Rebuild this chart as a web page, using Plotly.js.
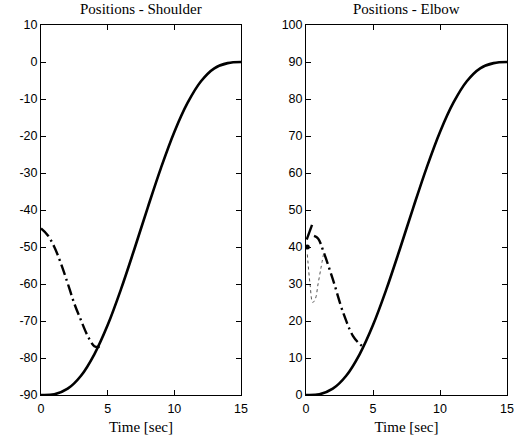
<!DOCTYPE html>
<html>
<head>
<meta charset="utf-8">
<script src="https://cdn.plot.ly/plotly-3.0.1.min.js"></script>
<style>html,body{margin:0;padding:0;background:#fff;}#chart{width:529px;height:439px;}</style>
</head>
<body>
<div id="chart"></div>
<script>
// Solid reference trajectories
const timeSolid = [0,1,2,3,4,5,6,7,8,9,10,11,12,13,14,15];
const shoulderSolid = [-90,-89.8,-88.3,-84.8,-79.0,-71.1,-61.4,-50.6,-39.4,-28.6,-18.9,-11.0,-5.2,-1.7,-0.3,0];
const elbowSolid = [0,0.2,1.7,5.2,11.0,18.9,28.6,39.4,50.6,61.4,71.1,79.0,84.8,88.3,89.7,90];

// Dash-dot curves
const timeShoulderDD = [0,0.5,1,1.5,2,2.5,3,3.5,4,4.4];
const shoulderDD = [-45,-46.8,-50,-54.5,-59.8,-65.3,-69.8,-74,-76.8,-77];
const timeElbowBump = [0.05,0.25,0.45];
const elbowBump = [42,44,46];
const timeElbowDD = [0.6,0.9,1.3,2.0,2.8,3.5,4.0,4.3];
const elbowDD = [43,42.3,38.8,31.3,22,16,13.8,13];

// Dotted curve (elbow)
const timeElbowDot = [0.1,0.3,0.5,0.7,0.9,1.1,1.3];
const elbowDot = [38,30,25,26,30,34,38];
const elbowPointT = [0.1];
const elbowPointV = [40];

const titles = ['Positions - Shoulder','Positions - Elbow'];
const xTitle = 'Time [sec]';
const xTicks = [0,5,10,15];
const yTicksShoulder = [-90,-80,-70,-60,-50,-40,-30,-20,-10,0,10];
const yTicksElbow = [0,10,20,30,40,50,60,70,80,90,100];

const solidLine = {color:'#000', width:2.6};
const ddLine = {color:'#000', width:2.4, dash:'11px,4px,2px,4px'};

const data = [
  {x:timeSolid, y:shoulderSolid, mode:'lines', line:Object.assign({shape:'spline'},solidLine), xaxis:'x', yaxis:'y'},
  {x:timeShoulderDD, y:shoulderDD, mode:'lines', line:Object.assign({shape:'spline'},ddLine), xaxis:'x', yaxis:'y'},
  {x:timeSolid, y:elbowSolid, mode:'lines', line:Object.assign({shape:'spline'},solidLine), xaxis:'x2', yaxis:'y2'},
  {x:timeElbowBump, y:elbowBump, mode:'lines', line:{color:'#000', width:2.4}, xaxis:'x2', yaxis:'y2'},
  {x:timeElbowDD, y:elbowDD, mode:'lines', line:Object.assign({shape:'spline'},ddLine), xaxis:'x2', yaxis:'y2'},
  {x:timeElbowDot, y:elbowDot, mode:'lines', line:{color:'#555', width:1, dash:'dot', shape:'spline'}, xaxis:'x2', yaxis:'y2'},
  {x:elbowPointT, y:elbowPointV, mode:'markers', marker:{color:'#000', size:5}, xaxis:'x2', yaxis:'y2'}
];

const W=529, H=439;
const tickFont = {family:'Liberation Sans, Arial, sans-serif', size:12.5, color:'#000'};
const axCommon = {
  showgrid:false, zeroline:false, showline:true, linecolor:'#000', linewidth:1,
  mirror:'ticks', ticks:'inside', ticklen:5, tickcolor:'#000', tickwidth:1,
  tickfont:tickFont
};
function xa(d, anchor){return Object.assign({}, axCommon, {domain:d, range:[0,15], anchor:anchor,
  tickvals:xTicks, ticktext:xTicks.map(String), ticklabelstandoff:2,
  title:{text:xTitle, font:{family:'Liberation Serif, serif', size:15, color:'#000'}, standoff:6}});}
function ya(range, ticks, anchor){return Object.assign({}, axCommon, {domain:ydom, range:range, anchor:anchor,
  tickvals:ticks, ticktext:ticks.map(v=>String(v))});}
const ydom = [(H-395)/H, (H-25)/H];
const layout = {
  width:W, height:H, margin:{l:0,r:0,t:0,b:0}, showlegend:false,
  paper_bgcolor:'#fff', plot_bgcolor:'#fff',
  xaxis: xa([41/W, 241/W], 'y'),
  xaxis2: xa([306/W, 507/W], 'y2'),
  yaxis: ya([-90,10], yTicksShoulder, 'x'),
  yaxis2: ya([0,100], yTicksElbow, 'x2'),
  annotations: [
    {text:titles[0], xref:'paper', yref:'paper', x:141/W, y:(H-9)/H, xanchor:'center', yanchor:'middle', showarrow:false,
     font:{family:'Liberation Serif, serif', size:15, color:'#000'}},
    {text:titles[1], xref:'paper', yref:'paper', x:406/W, y:(H-9)/H, xanchor:'center', yanchor:'middle', showarrow:false,
     font:{family:'Liberation Serif, serif', size:15, color:'#000'}}
  ]
};
Plotly.newPlot('chart', data, layout, {displayModeBar:false, staticPlot:true});
</script>
</body>
</html>
